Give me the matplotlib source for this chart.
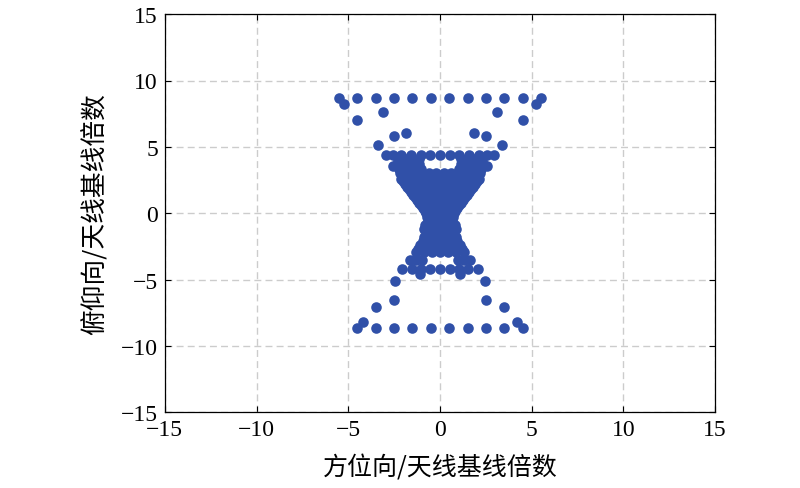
import matplotlib
matplotlib.use('Agg')
import matplotlib.pyplot as plt

# Points isolés, moitié haute
upper_x = [-5.5, -4.5, -3.5, -2.5, -1.5, -0.5, 0.5, 1.5, 2.5, 3.5, 4.5, 5.5,
           -5.25, 5.25, -4.5, 4.5, -3.12, 3.12, -2.5, 2.5, -1.87, 1.87,
           -3.4, 3.4, -2.55, 2.55,
           -2.97, -2.55, -2.15, -1.6, -1.06, -0.52, 0.0, 0.52, 1.06, 1.6, 2.15, 2.55, 2.97]
upper_y = [8.66] * 12 + [8.2, 8.2, 7.0, 7.0, 7.64, 7.64, 5.83, 5.83, 6.06, 6.06,
                         5.13, 5.13, 3.55, 3.55] + [4.4] * 13

# Points isolés, moitié basse
lower_x = [-4.5, -3.5, -2.5, -1.5, -0.5, 0.5, 1.5, 2.5, 3.5, 4.5,
           -4.22, 4.22, -3.5, 3.5, -2.5, 2.5, -2.44, 2.44, -1.08, 1.08,
           -2.05, -1.5, -1.05, -0.53, 0.0, 0.53, 1.05, 1.5, 2.05,
           -1.65, -1.3, -1.0, 1.0, 1.3, 1.65]
lower_y = [-8.66] * 10 + [-8.18, -8.18, -7.07, -7.07, -6.57, -6.57, -5.1, -5.1,
                          -4.6, -4.6] + [-4.2] * 9 + [-3.55] * 6

# Noyau dense : une ligne de points par niveau
core_y = [4.05, 3.7, 3.3, 3.0, 2.6, 2.4, 2.2, 2.0, 1.8, 1.6, 1.4, 1.2, 1.0, 0.8, 0.6,
          0.4, 0.2, 0.0, -0.3, -0.6, -0.9, -1.2, -1.5, -1.8, -2.1, -2.4, -2.7, -2.9]
core_x = [
    [-2.3, -1.9, -1.5, -1.15, 1.15, 1.5, 1.9, 2.3],
    [-2.35, -1.95, -1.55, -1.15, 1.15, 1.55, 1.95, 2.35],
    [-2.25, -1.85, -1.45, -1.05, 1.05, 1.45, 1.85, 2.25],
    [-2.2, -1.8, -1.4, -1.0, -0.6, -0.2, 0.2, 0.6, 1.0, 1.4, 1.8, 2.2],
    [-2.15, -1.72, -1.29, -0.86, -0.43, 0.0, 0.43, 0.86, 1.29, 1.72, 2.15],
    [-2.02, -1.62, -1.21, -0.81, -0.4, 0.0, 0.4, 0.81, 1.21, 1.62, 2.02],
    [-1.91, -1.53, -1.15, -0.76, -0.38, 0.0, 0.38, 0.76, 1.15, 1.53, 1.91],
    [-1.8, -1.35, -0.9, -0.45, 0.0, 0.45, 0.9, 1.35, 1.8],
    [-1.69, -1.27, -0.85, -0.42, 0.0, 0.42, 0.85, 1.27, 1.69],
    [-1.58, -1.18, -0.79, -0.4, 0.0, 0.4, 0.79, 1.18, 1.58],
    [-1.47, -1.1, -0.73, -0.37, 0.0, 0.37, 0.73, 1.1, 1.47],
    [-1.36, -0.91, -0.45, 0.0, 0.45, 0.91, 1.36],
    [-1.25, -0.83, -0.42, 0.0, 0.42, 0.83, 1.25],
    [-1.14, -0.76, -0.38, 0.0, 0.38, 0.76, 1.14],
    [-1.03, -0.69, -0.34, 0.0, 0.34, 0.69, 1.03],
    [-0.92, -0.46, 0.0, 0.46, 0.92],
    [-0.81, -0.4, 0.0, 0.4, 0.81],
    [-0.78, -0.39, 0.0, 0.39, 0.78],
    [-0.72, -0.36, 0.0, 0.36, 0.72],
    [-0.68, -0.34, 0.0, 0.34, 0.68],
    [-0.82, -0.41, 0.0, 0.41, 0.82],
    [-0.85, -0.42, 0.0, 0.42, 0.85],
    [-0.72, -0.36, 0.0, 0.36, 0.72],
    [-0.85, -0.42, 0.0, 0.42, 0.85],
    [-0.95, -0.48, 0.0, 0.48, 0.95],
    [-1.1, -0.73, -0.37, 0.0, 0.37, 0.73, 1.1],
    [-1.22, -0.81, -0.41, 0.0, 0.41, 0.81, 1.22],
    [-1.3, -0.87, -0.43, 0.0, 0.43, 0.87, 1.3],
]

ticks = [-15, -10, -5, 0, 5, 10, 15]
xlabel = '方位向/天线基线倍数'
ylabel = '俯仰向/天线基线倍数'

# Regrouper tous les points
xs = upper_x + lower_x
ys = upper_y + lower_y
for y, row in zip(core_y, core_x):
    xs += row
    ys += [y] * len(row)

fig = plt.figure(figsize=(8, 4.89), dpi=100)
ax = fig.add_axes([0.206, 0.155, 0.688, 0.814])

ax.scatter(xs, ys, s=58, color='#3050a8', linewidths=0, zorder=3)

ax.set_xlim(-15, 15)
ax.set_ylim(-15, 15)
ax.set_xticks(ticks)
ax.set_yticks(ticks)
ax.grid(True, color='#cccccc', linestyle=(0, (5, 3)), linewidth=1.0, zorder=0)
ax.tick_params(direction='in', length=4, width=0.8, top=True, right=True,
               labelsize=17, pad=5)
for lab in ax.get_xticklabels() + ax.get_yticklabels():
    lab.set_family('Liberation Serif')
for sp in ax.spines.values():
    sp.set_linewidth(0.9)

ax.set_xlabel(xlabel, fontsize=18, family=['Noto Sans CJK SC', 'DejaVu Sans'], labelpad=10)
ax.set_ylabel(ylabel, fontsize=18.5, family=['Noto Sans CJK SC', 'DejaVu Sans'], labelpad=9)

fig.savefig('out.png', dpi=100)
